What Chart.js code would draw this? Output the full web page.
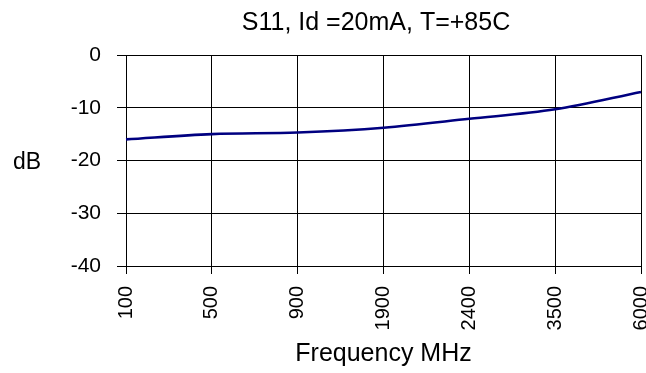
<!DOCTYPE html>
<html>
<head>
<meta charset="utf-8">
<script src="https://cdn.jsdelivr.net/npm/chart.js@4"></script>
<style>
  html, body { margin: 0; padding: 0; background: #fff; }
  #wrap { width: 646px; height: 373px; }
</style>
</head>
<body>
<div id="wrap"><canvas id="s11-chart" width="646" height="373"></canvas></div>
<script>
// data
const freqLabels = ['100', '500', '900', '1900', '2400', '3500', '6000'];
const s11Values = [-16.0, -15.0, -14.7, -13.8, -12.1, -10.3, -7.0];
const yTicks = [0, -10, -20, -30, -40];

const chartTitle = 'S11, Id =20mA, T=+85C';
const yTitle = 'dB';
const xTitle = 'Frequency MHz';

const fontFamily = "'Liberation Sans', Arial, sans-serif";

// title and "dB" are drawn flat (not rotated), like the original
const extraText = {
  id: 'extraText',
  afterDraw(chart) {
    const ctx = chart.ctx;
    ctx.save();
    ctx.fillStyle = '#000';
    ctx.textAlign = 'center';
    ctx.textBaseline = 'middle';
    ctx.font = '25px ' + fontFamily;
    ctx.fillText(chartTitle, 376, 23);
    ctx.font = '23px ' + fontFamily;
    ctx.fillText(yTitle, 27, 163);
    ctx.restore();
  }
};

const ctx = document.getElementById('s11-chart').getContext('2d');
const chart = new Chart(ctx, {
  type: 'line',
  data: {
    labels: freqLabels,
    datasets: [{
      data: s11Values,
      borderColor: '#000080',
      borderWidth: 2.6,
      pointRadius: 0,
      cubicInterpolationMode: 'monotone',
      fill: false
    }]
  },
  options: {
    responsive: false,
    animation: false,
    devicePixelRatio: 1,
    layout: { padding: { top: 55, right: 5, left: 0, bottom: 0 } },
    plugins: {
      legend: { display: false },
      title: { display: false },
      tooltip: { enabled: false }
    },
    scales: {
      x: {
        type: 'category',
        offset: false,
        grid: { color: '#000', lineWidth: 1, tickLength: 8, drawTicks: true },
        border: { color: '#000', width: 1 },
        ticks: {
          color: '#000',
          font: { family: fontFamily, size: 20 },
          minRotation: 90,
          maxRotation: 90,
          padding: 12,
          autoSkip: false
        },
        title: {
          display: true,
          text: xTitle,
          color: '#000',
          font: { family: fontFamily, size: 25 },
          padding: { top: 0, bottom: 4 }
        },
        afterFit(scale) {
          scale.height = 107;
          scale.paddingLeft = 0;
          scale.paddingRight = 0;
        }
      },
      y: {
        min: -40,
        max: 0,
        afterBuildTicks(scale) {
          scale.ticks = yTicks.map(v => ({ value: v }));
        },
        grid: { color: '#000', lineWidth: 1, tickLength: 9, drawTicks: true },
        border: { color: '#000', width: 1 },
        ticks: {
          color: '#000',
          font: { family: fontFamily, size: 21 },
          padding: 16
        },
        afterFit(scale) {
          scale.width = 126;
        }
      }
    }
  },
  plugins: [extraText]
});
</script>
</body>
</html>
